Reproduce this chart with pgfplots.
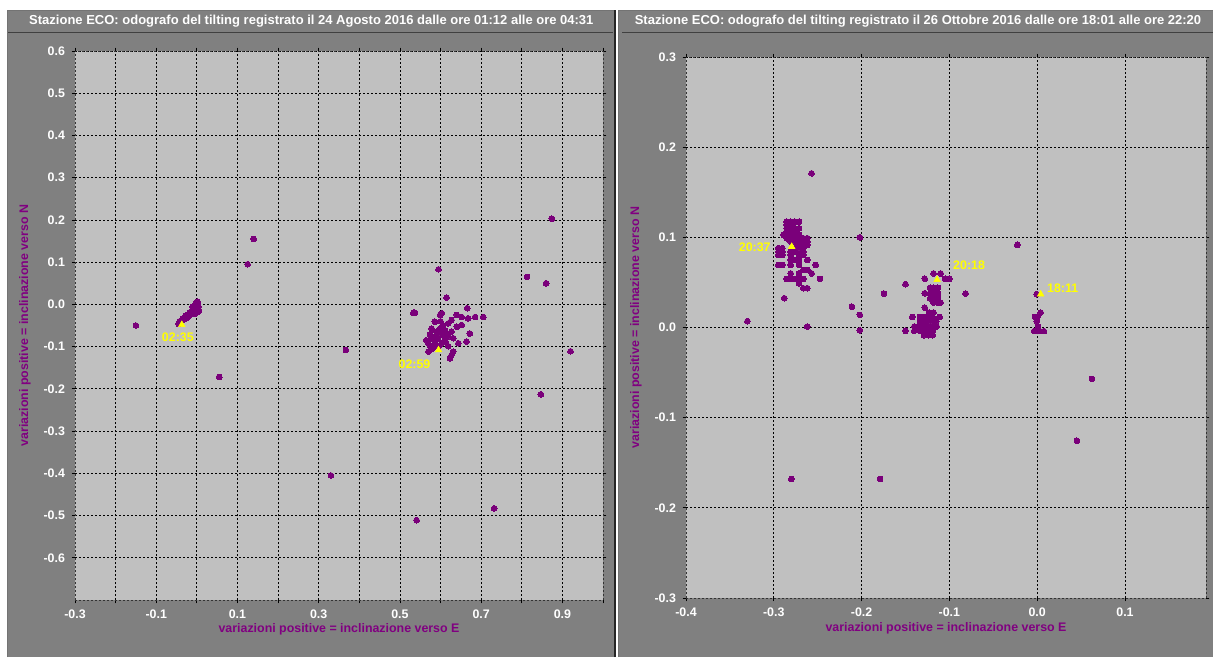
\documentclass[border=0pt]{standalone}
\usepackage{pgfplots}
\pgfplotsset{compat=1.18}
\usepackage{pgfplotstable}
\usepackage{fontspec}
\setmainfont{Liberation Sans}
\definecolor{panel}{HTML}{808080}
\definecolor{plotbg}{HTML}{C0C0C0}
\definecolor{pts}{HTML}{7A007A}
\definecolor{lbl}{HTML}{800080}
\definecolor{tri}{HTML}{FFFF00}

\pgfplotstableread{
x y
-0.150 -0.050
-0.045 -0.046
-0.042 -0.040
-0.038 -0.038
-0.035 -0.034
-0.032 -0.036
-0.030 -0.030
-0.027 -0.027
-0.025 -0.032
-0.022 -0.024
-0.020 -0.028
-0.018 -0.020
-0.016 -0.024
-0.014 -0.016
-0.012 -0.020
-0.010 -0.013
-0.008 -0.018
-0.006 -0.010
-0.004 -0.014
-0.003 -0.006
0.000 -0.004
0.002 0.000
0.000 0.004
-0.003 0.002
0.003 -0.010
0.005 -0.015
0.001 -0.018
-0.005 -0.022
0.004 -0.006
-0.010 -0.006
0.002 0.006
0.055 -0.172
0.125 0.095
0.140 0.155
0.330 -0.405
0.367 -0.108
0.541 -0.511
0.595 0.083
0.615 0.016
0.533 -0.020
0.537 -0.020
0.666 -0.009
0.603 -0.021
0.599 -0.025
0.640 -0.025
0.652 -0.030
0.668 -0.033
0.685 -0.030
0.705 -0.030
0.586 -0.041
0.619 -0.045
0.652 -0.049
0.627 -0.037
0.578 -0.057
0.599 -0.057
0.611 -0.061
0.627 -0.064
0.640 -0.053
0.672 -0.069
0.574 -0.072
0.586 -0.076
0.603 -0.072
0.619 -0.076
0.578 -0.080
0.594 -0.080
0.611 -0.080
0.631 -0.080
0.664 -0.088
0.570 -0.092
0.586 -0.088
0.603 -0.092
0.619 -0.099
0.644 -0.092
0.570 -0.112
0.582 -0.099
0.627 -0.120
0.623 -0.128
0.631 -0.112
0.590 -0.065
0.605 -0.050
0.615 -0.068
0.595 -0.100
0.580 -0.105
0.600 -0.040
0.612 -0.088
0.565 -0.085
0.575 -0.100
0.732 -0.483
0.813 0.065
0.860 0.050
0.874 0.203
0.847 -0.213
0.920 -0.111
}\leftdata

\pgfplotstableread{
x y
-0.330 0.007
-0.288 0.0325
-0.262 0.001
-0.257 0.171
-0.280 -0.168
-0.179 -0.168
-0.202 0.100
-0.211 0.023
-0.202 0.014
-0.202 -0.003
-0.1745 0.0376
-0.150 0.048
-0.128 0.054
-0.118 0.060
-0.110 0.060
-0.105 0.054
-0.100 0.054
-0.122 0.044
-0.118 0.044
-0.113 0.044
-0.128 0.038
-0.122 0.038
-0.118 0.038
-0.113 0.038
-0.122 0.0325
-0.118 0.0325
-0.113 0.0325
-0.118 0.0276
-0.113 0.0276
-0.110 0.0276
-0.0815 0.0376
-0.128 0.022
-0.1423 0.0117
-0.1335 0.0117
-0.129 0.0117
-0.124 0.0117
-0.119 0.0117
-0.111 0.0117
-0.123 0.0166
-0.118 0.0166
-0.1335 0.0067
-0.129 0.0067
-0.124 0.0067
-0.119 0.0067
-0.115 0.0067
-0.140 0.0011
-0.1335 0.0011
-0.129 0.0011
-0.124 0.0011
-0.119 0.0011
-0.1145 0.0011
-0.150 -0.0037
-0.140 -0.0037
-0.1335 -0.0037
-0.129 -0.0037
-0.124 -0.0037
-0.119 -0.0037
-0.129 -0.0085
-0.124 -0.0085
-0.119 -0.0085
-0.0226 0.0917
-0.0005 0.037
0.004 0.0165
-0.0025 0.0117
0.0002 0.0117
-0.0005 0.0067
0.001 0.001
-0.0035 -0.004
0.003 -0.004
0.0077 -0.004
0.0624 -0.057
0.0453 -0.1257
-0.2853 0.1174
-0.2808 0.1174
-0.2759 0.1174
-0.2713 0.1174
-0.2853 0.1137
-0.2808 0.1137
-0.2853 0.110
-0.2808 0.110
-0.2759 0.110
-0.2713 0.110
-0.2853 0.1063
-0.2808 0.1063
-0.2759 0.1063
-0.289 0.1027
-0.2853 0.1027
-0.2808 0.1027
-0.2759 0.1027
-0.2713 0.1027
-0.2853 0.099
-0.2808 0.099
-0.2759 0.099
-0.2713 0.099
-0.2664 0.099
-0.2618 0.099
-0.2808 0.0953
-0.2759 0.0953
-0.2713 0.0953
-0.2664 0.0953
-0.2618 0.0953
-0.2713 0.0916
-0.2664 0.0916
-0.2618 0.0916
-0.2948 0.088
-0.2903 0.088
-0.2759 0.088
-0.2713 0.088
-0.2664 0.088
-0.2948 0.084
-0.2903 0.084
-0.2808 0.084
-0.2759 0.084
-0.2664 0.084
-0.2948 0.0805
-0.2903 0.0805
-0.2808 0.0805
-0.2713 0.0805
-0.2664 0.0805
-0.2808 0.075
-0.2759 0.075
-0.2713 0.075
-0.2618 0.075
-0.2948 0.0694
-0.2903 0.0694
-0.2808 0.0694
-0.2713 0.0694
-0.2523 0.0694
-0.2664 0.0639
-0.2618 0.0639
-0.2808 0.060
-0.2713 0.060
-0.2569 0.060
-0.2853 0.0539
-0.2808 0.0539
-0.2759 0.0539
-0.2713 0.0539
-0.2664 0.0539
-0.2474 0.0539
-0.2713 0.049
-0.2664 0.0436
-0.2618 0.0436
}\rightdata

\pgfplotsset{
  odo/.style={
    scale only axis,
    axis background/.style={fill=plotbg},
    grid=both,
    major grid style={black, line width=0.6pt, dash pattern=on 1.2pt off 1.8pt},
    minor grid style={black, line width=0.6pt, dash pattern=on 1.2pt off 1.8pt},
    axis line style={black!80, line width=0.6pt, dash pattern=on 1.2pt off 1.8pt},
    tick style={black, line width=0.6pt},
    tick align=outside,
    major tick length=2.5pt, minor tick length=2.5pt,
    /pgf/number format/fixed,
    /pgf/number format/fixed zerofill,
    /pgf/number format/precision=1,
    /pgf/number format/assume math mode=true,
    ticklabel style={font=\bfseries\fontsize{9.3}{10}\selectfont, text=white},
    xlabel style={font=\bfseries\fontsize{9.3}{11}\selectfont, text=lbl, anchor=center},
    ylabel style={font=\bfseries\fontsize{9.3}{11}\selectfont, text=lbl, anchor=center},
    yticklabel style={anchor=east, xshift=-1.5pt},
  },
  pts/.style={only marks, mark=*, mark size=2.15pt, mark options={fill=pts, draw=pts, line width=0pt}},
  trimark/.style={only marks, mark=triangle*, mark size=2.8pt, mark options={fill=tri, draw=tri},
     nodes near coords={#1}, every node near coord/.style={font=\bfseries\fontsize{9.3}{11}\selectfont, text=tri, anchor=center}},
}

\begin{document}
\begin{tikzpicture}
\useasboundingbox (0,0) rectangle (909.75pt,492.75pt);
\fill[white] (0,0) rectangle (909.75pt,492.75pt);
% panels
\fill[panel] (5.25pt,0) rectangle (460.5pt,485.25pt);
\fill[panel] (463.5pt,0) rectangle (909.75pt,485.25pt);
\draw[black!85, line width=1.2pt] (461.2pt,0) -- (461.2pt,485.25pt);
\draw[black!55, line width=0.6pt] (5.25pt,0) -- (5.25pt,485.25pt) -- (460.5pt,485.25pt);
\draw[black!55, line width=0.6pt] (463.8pt,0) -- (463.8pt,485.25pt) -- (909.75pt,485.25pt);
\draw[black!75, line width=0.75pt] (6pt,468pt) -- (460pt,468pt);
\draw[black!75, line width=0.75pt] (466.5pt,468pt) -- (909.75pt,468pt);
\node[text=white, font=\bfseries\fontsize{9.75}{12}\selectfont] at (233.5pt,476.5pt)
  {Stazione ECO: odografo del tilting registrato il 24 Agosto 2016 dalle ore 01:12 alle ore 04:31};
\node[text=white, font=\bfseries\fontsize{9.75}{12}\selectfont] at (688.5pt,476.5pt)
  {Stazione ECO: odografo del tilting registrato il 26 Ottobre 2016 dalle ore 18:01 alle ore 22:20};

\begin{axis}[odo,
  at={(56.25pt,42.75pt)}, anchor=south west,
  width=396pt, height=411.75pt,
  xmin=-0.3, xmax=1.0, ymin=-0.7, ymax=0.6,
  xtick={-0.3,-0.1,0.1,0.3,0.5,0.7,0.9},
  minor xtick={-0.2,0,0.2,0.4,0.6,0.8,1.0},
  ytick={-0.6,-0.5,-0.4,-0.3,-0.2,-0.1,0,0.1,0.2,0.3,0.4,0.5,0.6},
  xticklabel style={anchor=center, yshift=-8pt},
  xlabel={variazioni positive = inclinazione verso E},
  ylabel={variazioni positive = inclinazione verso N},
  xlabel style={at={(axis description cs:0.5,-0.053)}},
  ylabel style={at={(axis description cs:-0.0947,0.5)}},
]
\addplot[pts] table[x=x,y=y] {\leftdata};
\addplot[trimark={02:35}, every node near coord/.append style={xshift=-3pt, yshift=-9.75pt}] coordinates {(-0.037,-0.048)};
\addplot[trimark={02:59}, every node near coord/.append style={xshift=-18pt, yshift=-11pt}] coordinates {(0.595,-0.108)};
\end{axis}

\begin{axis}[odo,
  at={(514.5pt,44.25pt)}, anchor=south west,
  width=390pt, height=405.75pt,
  xmin=-0.4, xmax=0.1923, ymin=-0.3, ymax=0.3,
  xtick={-0.4,-0.3,-0.2,-0.1,0,0.1},
  ytick={-0.3,-0.2,-0.1,0,0.1,0.2,0.3},
  xticklabel style={anchor=center, yshift=-8.5pt},
  xlabel={variazioni positive = inclinazione verso E},
  ylabel={variazioni positive = inclinazione verso N},
  xlabel style={at={(axis description cs:0.5,-0.056)}},
  ylabel style={at={(axis description cs:-0.0962,0.5)}},
]
\addplot[pts] table[x=x,y=y] {\rightdata};
\addplot[trimark={20:37}, every node near coord/.append style={xshift=-27.75pt, yshift=-0.75pt}] coordinates {(-0.2796,0.0897)};
\addplot[trimark={20:18}, every node near coord/.append style={xshift=24pt, yshift=10.5pt}] coordinates {(-0.114,0.053)};
\addplot[trimark={18:11}, every node near coord/.append style={xshift=16.5pt, yshift=4.5pt}] coordinates {(0.004,0.037)};
\end{axis}
\end{tikzpicture}
\end{document}
